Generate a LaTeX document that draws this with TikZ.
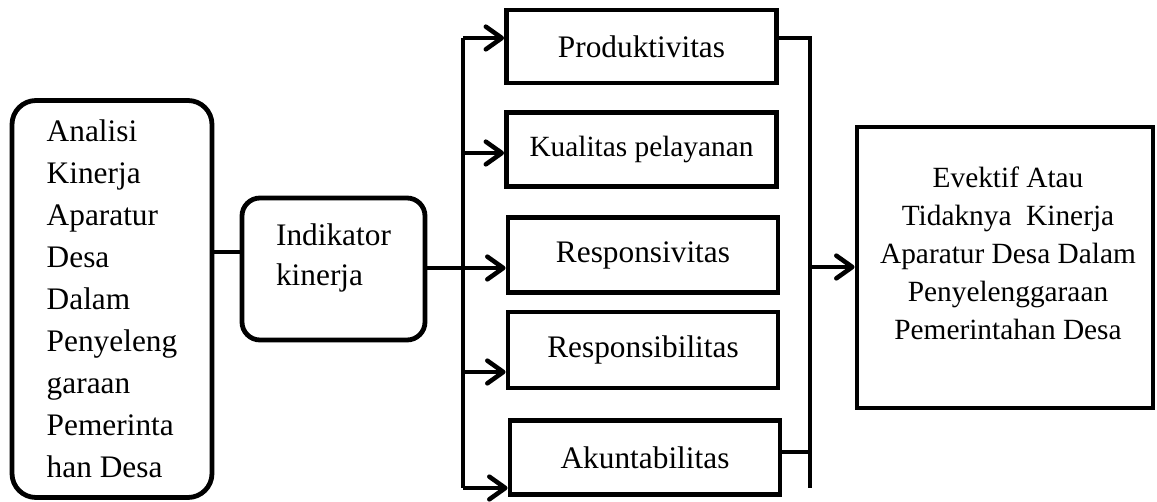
\documentclass[tikz,border=0pt]{standalone}
\usepackage{fontspec}
\setmainfont{Liberation Serif}
\usepackage{tikz}
\usetikzlibrary{arrows.meta,positioning,calc}

\begin{document}
\begin{tikzpicture}[
  x=0.75pt,y=-0.75pt,
  font=\fontsize{23.5pt}{31.5pt}\selectfont,
  rbox/.style={draw,line width=3.6pt,rounded corners=18pt,align=left},
  ibox/.style={draw,line width=3.6pt,minimum width=202.5pt,
               minimum height=56pt,inner sep=0pt,align=center},
  ebox/.style={draw,line width=3.6pt,minimum width=222pt,
               minimum height=210.75pt},
  ln/.style={line width=3.4pt},
  arr/.style={line width=3.4pt,-{Straight Barb[length=12pt,width=17pt,round]}}
]
\useasboundingbox (0,0) rectangle (1157,502);

% ---- input side
\node[rbox,minimum width=150pt,minimum height=297.75pt] (ana) at (112,299)
  {Analisi\\Kinerja\\Aparatur\\Desa\\Dalam\\Penyeleng\\garaan\\Pemerinta\\han Desa};
\node[rbox,rounded corners=13.5pt,minimum width=137.25pt,minimum height=106.5pt,
  font=\fontsize{23.5pt}{30pt}\selectfont] (ind) at (333.5,269)
  {Indikator\\kinerja\\[-8pt]\mbox{}};
\draw[ln] (ana.east |- 0,252) -- (ind.west |- 0,252);

% ---- indicators
\node[ibox,minimum height=54.75pt] (prod) at (641.5,46.5) {Produktivitas};
\node[ibox,font=\fontsize{22pt}{28pt}\selectfont] (kual) at (641.5,149.5) {Kualitas pelayanan};
\node[ibox] (resv) at (643,255) {Responsivitas};
\node[ibox,minimum height=57pt] (resb) at (643,350) {Responsibilitas};
\node[ibox] (akun) at (645,457.5) {Akuntabilitas};

\coordinate (ltop) at (463,38);
\coordinate (lbot) at (463,488);
\coordinate (rtop) at (810,38);
\coordinate (rbot) at (810,488);

\draw[ln] (ind.east |- 0,268) -- (ltop |- 0,268);
\draw[ln] (ltop) -- (lbot);
\draw[arr] (ltop) -- (prod.west |- ltop);
\draw[arr] (ltop |- 0,153) -- (kual.west |- 0,153);
\draw[arr] (ltop |- 0,268) -- (resv.west |- 0,268);
\draw[arr] (ltop |- 0,372) -- (resb.west |- 0,372);
\draw[arr] (lbot) -- (akun.west |- lbot);

% ---- output side
\draw[ln] (prod.east |- rtop) -- (rtop) -- (rbot);
\draw[ln] (akun.east |- 0,452) -- (rtop |- 0,452);

\node[ebox] (eval) at (1005,267.5) {};
\node[align=center,font=\fontsize{22pt}{28.5pt}\selectfont] (evaltxt) at (1008,253)
  {Evektif Atau\\Tidaknya\ \ Kinerja\\Aparatur Desa Dalam\\Penyelenggaraan\\Pemerintahan Desa};
\draw[arr] (rtop |- 0,267) -- (eval.west |- 0,267);
\end{tikzpicture}
\end{document}
